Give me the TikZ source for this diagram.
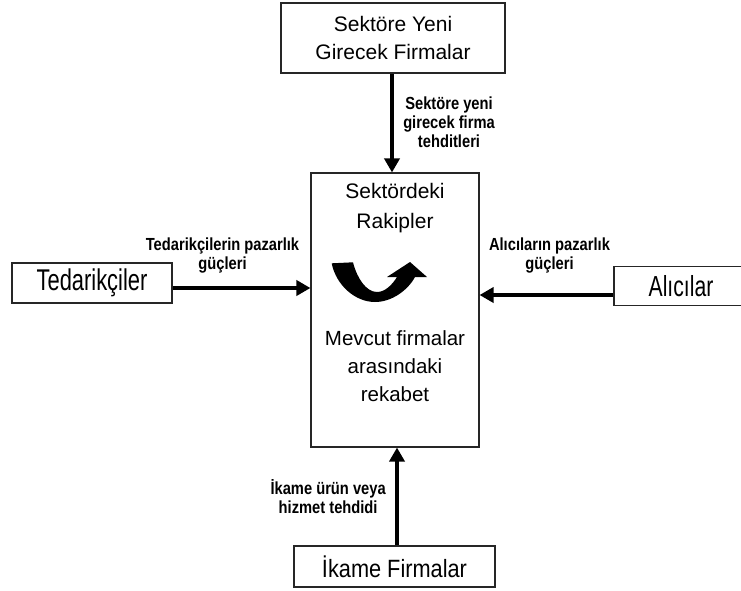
\documentclass[tikz,border=0pt]{standalone}
\usepackage{fontspec}
\setmainfont{Liberation Sans}
\newfontfamily\narrowsans[FakeStretch=0.73]{Liberation Sans}
\newfontfamily\midsans[FakeStretch=0.87]{Liberation Sans}
\newfontfamily\lblsans[FakeStretch=0.84]{Liberation Sans}
\usetikzlibrary{arrows.meta,positioning}

\tikzset{
  box/.style = {draw = black!85, line width = 1.1pt, inner sep = 0pt,
                align = center, font = \fontsize{21}{28}\selectfont},
  lbl/.style = {align = center, inner sep = 1pt,
                font = \lblsans\fontsize{17.5}{19}\selectfont\bfseries},
  force/.style = {line width = 4.5pt, -{Triangle[length=14pt, width=15pt]}}
}

\begin{document}
\begin{tikzpicture}[x=1pt, y=1pt]
 \useasboundingbox (0,0) rectangle (741,-590);
 \clip (0,0) rectangle (741,-590);
 % boxes
 \node[box, minimum width = 224pt, minimum height = 70pt] (top) at (393,-38) {Sektöre Yeni\\Girecek Firmalar};
 \node[box, minimum width = 168pt, minimum height = 274pt] (ctr) at (395,-310) {};
 \node[box, minimum width = 160pt, minimum height = 40pt,
       font = \narrowsans\fontsize{30}{30}\selectfont] (sup) at (92,-283) {Tedarikçiler};
 \node[box, minimum width = 134pt, minimum height = 39pt,
       font = \narrowsans\fontsize{29}{29}\selectfont] (buy) at (681,-286) {Alıcılar};
 \node[box, minimum width = 201pt, minimum height = 41pt,
       font = \midsans\fontsize{25}{25}\selectfont] (sub) at (394.5,-566.5) {İkame Firmalar};
 % inside the centre box
 \node[align = center, font = \fontsize{21}{30}\selectfont] (riv) at (395,-208) {Sektördeki\\Rakipler};
 \node[align = center, font = \fontsize{20.5}{28}\selectfont] (comp) at (395,-366) {Mevcut firmalar\\arasındaki\\rekabet};
 \fill (331.7,-263.3) .. controls (336,-285) and (355,-302) .. (375,-302)
   .. controls (392,-302) and (408,-290) .. (415,-277) -- (427,-277) -- (410,-262)
   -- (387,-277) -- (397,-277) .. controls (392,-285) and (385,-292) .. (377,-292)
   .. controls (366,-292) and (357,-278) .. (353,-262.3) -- cycle;
 % forces
 \draw[force] ([xshift=-1pt]top.south) -- ([xshift=-1pt]top.south |- ctr.north)
   node[lbl, midway, right = 8pt, yshift = 1pt] {Sektöre yeni\\girecek firma\\tehditleri};
 \draw[force] ([yshift=-5pt]sup.east) -- ([yshift=-5pt]sup.east -| ctr.west)
   node[lbl, midway, above = 12pt, xshift = -19pt] {Tedarikçilerin pazarlık\\güçleri};
 \draw[force] ([yshift=-9pt]buy.west) -- ([yshift=-9pt]buy.west -| ctr.east)
   node[lbl, midway, above = 19pt, xshift = 3pt] {Alıcıların pazarlık\\güçleri};
 \draw[force] ([xshift=2.5pt]sub.north) -- ([xshift=2.5pt]sub.north |- ctr.south)
   node[lbl, midway, left = 8pt] {İkame ürün veya\\hizmet tehdidi};
\end{tikzpicture}
\end{document}
